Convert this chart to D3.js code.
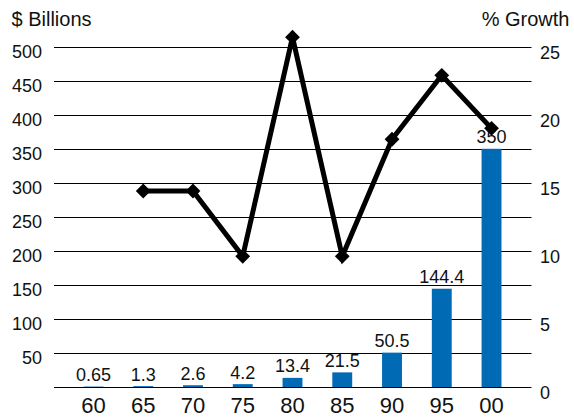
<!DOCTYPE html>
<html>
<head>
<meta charset="utf-8">
<script src="https://cdn.jsdelivr.net/npm/d3@7"></script>
<style>
  html, body { margin: 0; padding: 0; background: #fff; }
  svg { display: block; font-family: "Liberation Sans", Arial, sans-serif; }
</style>
</head>
<body>
<script>
// Years (two-digit) along the bottom
const categories = ["60", "65", "70", "75", "80", "85", "90", "95", "00"];
// Spending in $ billions (bars)
const billions = [0.65, 1.3, 2.6, 4.2, 13.4, 21.5, 50.5, 144.4, 350];
// Five-year % growth (line), none for the first period
const growth = [null, 14.4, 14.4, 9.6, 25.7, 9.6, 18.2, 22.9, 19.0];
// Axis ticks
const gridValues = [0, 50, 100, 150, 200, 250, 300, 350, 400, 450, 500];
const leftTicks = [50, 100, 150, 200, 250, 300, 350, 400, 450, 500];
const rightTicks = [0, 5, 10, 15, 20, 25];

const W = 574, H = 417;
const svg = d3.select("body").append("svg").attr("width", W).attr("height", H);

const gridLeft = 54, gridRight = 531.5;
const yTop = 46.7, yBottom = 387;

const x = d3.scaleBand().domain(categories).range([68.6, 516.4])
  .paddingInner(0.6).paddingOuter(0.3);
const yL = d3.scaleLinear().domain([0, 500]).range([yBottom, yTop]);
const yR = d3.scaleLinear().domain([0, 25]).range([yBottom, yTop]);

// Horizontal gridlines
svg.append("g").selectAll("line").data(gridValues).join("line")
  .attr("x1", gridLeft).attr("x2", gridRight)
  .attr("y1", d => Math.round(yL(d)) + 0.5).attr("y2", d => Math.round(yL(d)) + 0.5)
  .attr("stroke", "#000").attr("stroke-width", 1.2);

// Left axis labels
svg.append("g").selectAll("text").data(leftTicks).join("text")
  .attr("x", 42).attr("y", d => yL(d) + 11.5)
  .attr("text-anchor", "end").attr("font-size", 18).attr("fill", "#111")
  .text(d => d);

// Right axis labels
svg.append("g").selectAll("text").data(rightTicks).join("text")
  .attr("x", 540).attr("y", d => yR(d) + 12)
  .attr("text-anchor", "start").attr("font-size", 18).attr("fill", "#111")
  .text(d => d);

// Axis titles
svg.append("text").attr("x", 11.5).attr("y", 26).attr("font-size", 20).attr("fill", "#111")
  .text("$ Billions");
svg.append("text").attr("x", 569.5).attr("y", 26).attr("text-anchor", "end")
  .attr("font-size", 20).attr("fill", "#111").text("% Growth");

// Bars
svg.append("g").selectAll("rect").data(billions).join("rect")
  .attr("x", (d, i) => x(categories[i]))
  .attr("width", x.bandwidth())
  .attr("y", d => yL(d))
  .attr("height", d => yBottom - yL(d))
  .attr("fill", "#006ab5");

// Bar value labels
svg.append("g").selectAll("text").data(billions).join("text")
  .attr("x", (d, i) => x(categories[i]) + x.bandwidth() / 2)
  .attr("y", d => yL(d) - 5.5)
  .attr("text-anchor", "middle").attr("font-size", 18).attr("fill", "#111")
  .text(d => String(d));

// Category labels
svg.append("g").selectAll("text").data(categories).join("text")
  .attr("x", d => x(d) + x.bandwidth() / 2)
  .attr("y", 413)
  .attr("text-anchor", "middle").attr("font-size", 22).attr("fill", "#111")
  .text(d => d);

// Growth line with diamond markers
const pts = growth.map((g, i) => ({ c: categories[i], g })).filter(p => p.g != null);
const line = d3.line()
  .x(p => x(p.c) + x.bandwidth() / 2)
  .y(p => yR(p.g));
svg.append("path").datum(pts)
  .attr("d", line)
  .attr("fill", "none").attr("stroke", "#000")
  .attr("stroke-width", 5).attr("stroke-linejoin", "miter");

const r = 7.4;
svg.append("g").selectAll("path").data(pts).join("path")
  .attr("transform", p => `translate(${x(p.c) + x.bandwidth() / 2},${yR(p.g)})`)
  .attr("d", `M0,${-r}L${r},0L0,${r}L${-r},0Z`)
  .attr("fill", "#000");
</script>
</body>
</html>
